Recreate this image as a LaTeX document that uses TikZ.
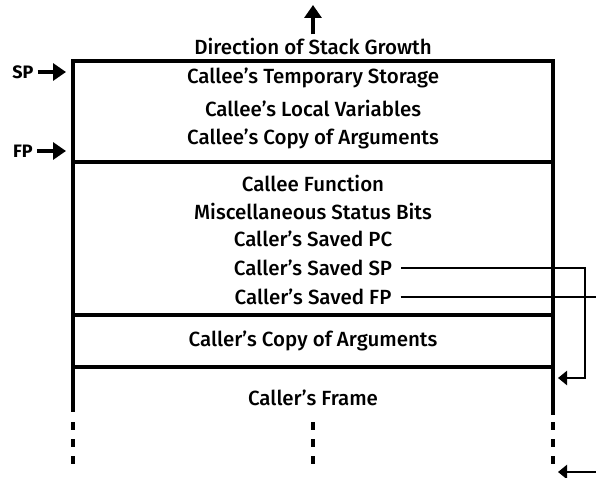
\documentclass[tikz,border=0pt]{standalone}
\usepackage{fontspec}
\setmainfont{Fira Sans}[UprightFont=* Medium, BoldFont=* Bold]
\usetikzlibrary{arrows.meta}
\tikzset{
  wall/.style={line width=3.4pt, line cap=rect},
  lbl/.style={font=\fontsize{20.5}{22}\selectfont, inner sep=0pt},
  side/.style={font=\fontsize{18}{20}\selectfont\bfseries, inner sep=0pt},
  ptr/.style={line width=3.2pt, -{Triangle[length=13pt,width=17pt]}},
  link/.style={line width=2.4pt},
  linkarrow/.style={line width=2.4pt, -{Triangle[length=9pt,width=14pt]}},
  dots/.style={line width=4pt, dash pattern=on 8pt off 9pt}
}
\begin{document}
\begin{tikzpicture}[x=1pt,y=-1pt]
\useasboundingbox (0,0) rectangle (596,478);

% frame outline
\draw[wall] (73,410) -- (73,61) -- (553,61) -- (553,413);
\draw[wall] (73,162) -- (553,162);
\draw[wall] (73,315) -- (553,315);
\draw[wall] (73,367) -- (553,367);

% continuation of the stack below
\draw[dots] (73,422) -- (73,466);
\draw[dots] (313,422) -- (313,466);
\draw[dots] (553,422) -- (553,466);

% growth direction
\node[lbl] (dir) at (313,46) {Direction of Stack Growth};
\coordinate (up) at (313,5);
\draw[ptr] ([yshift=3pt]dir.north) -- (up);

% callee frame contents
\node[lbl] (tmp) at (313,78) {Callee's Temporary Storage};
\node[lbl] (loc) at (313,108) {Callee's Local Variables};
\node[lbl] (cargs) at (313,139) {Callee's Copy of Arguments};
\node[lbl] (fn) at (313,183) {Callee Function};
\node[lbl] (misc) at (313,211) {Miscellaneous Status Bits};
\node[lbl] (spc) at (313,239) {Caller's Saved PC};
\node[lbl] (ssp) at (313,268) {Caller's Saved SP};
\node[lbl] (sfp) at (313,297) {Caller's Saved FP};
\node[lbl] (rargs) at (313,341) {Caller's Copy of Arguments};
\node[lbl] (frame) at (313,398) {Caller's Frame};

% stack and frame pointers
\node[side] (sp) at (23,72) {SP};
\node[side] (fp) at (23,151) {FP};
\coordinate (sptip) at (66,72);
\coordinate (fptip) at (66,151);
\draw[ptr] ([xshift=4pt]sp.east) -- (sptip);
\draw[ptr] ([xshift=4pt]fp.east) -- (fptip);

% saved pointer links
\coordinate (spbend) at (585,268);
\coordinate (spturn) at (585,378);
\coordinate (spend) at (558,378);
\coordinate (fpout) at (596,297);
\coordinate (fpin) at (596,472);
\coordinate (fpend) at (558,472);
\draw[linkarrow] ([xshift=9pt]ssp.east) -- (spbend) -- (spturn) -- (spend);
\draw[link] ([xshift=9pt]sfp.east) -- (fpout);
\draw[linkarrow] (fpin) -- (fpend);
\end{tikzpicture}
\end{document}
